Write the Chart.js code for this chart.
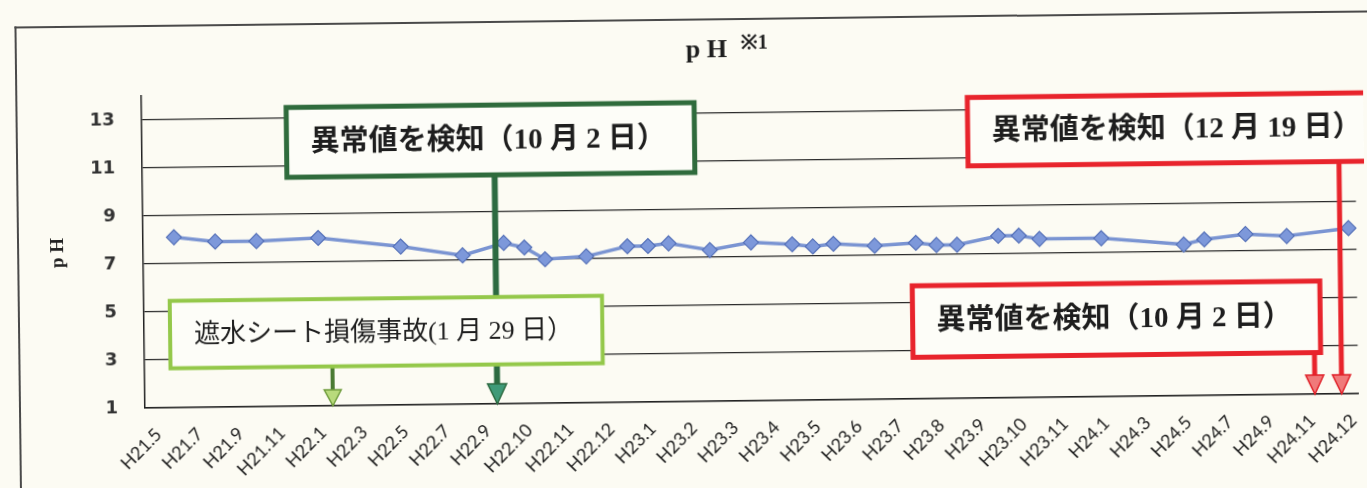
<!DOCTYPE html>
<html><head><meta charset="utf-8">
<script src="https://cdn.jsdelivr.net/npm/chart.js@4.4.1/dist/chart.umd.min.js"></script>
<style>
html,body{margin:0;padding:0;background:#fcfbf3;overflow:hidden;width:1367px;height:488px;}
#wrap{position:relative;width:1367px;height:488px;transform:rotate(-0.68deg);transform-origin:145px 408px;}
#frame{position:absolute;left:19px;top:25px;width:1420px;height:540px;border-left:2px solid #4a4a4a;border-top:2px solid #4a4a4a;}
canvas{position:absolute;left:0;top:0;}
</style></head><body>
<div id="wrap"><div id="frame"></div><canvas id="c" width="1367" height="488" style="width:1367px;height:488px"></canvas></div>
<script>
// ---- data ----
const xLabels = ['H21.5','H21.7','H21.9','H21.11','H22.1','H22.3','H22.5','H22.7','H22.9','H22.10',
  'H22.11','H22.12','H23.1','H23.2','H23.3','H23.4','H23.5','H23.6','H23.7','H23.8',
  'H23.9','H23.10','H23.11','H24.1','H24.3','H24.5','H24.7','H24.9','H24.11','H24.12'];
const xPos = [0.5,1.5,2.5,4,6,7.5,8.5,9,9.5,10.5,11.5,12,12.5,13.5,14.5,15.5,16,16.5,17.5,18.5,19,19.5,20.5,21,21.5,23,25,25.5,26.5,27.5,29];
const phValues = [8.1,7.9,7.9,8.0,7.6,7.2,7.7,7.5,7.0,7.1,7.5,7.5,7.6,7.3,7.6,7.5,7.4,7.5,7.4,7.5,7.4,7.4,7.75,7.75,7.6,7.6,7.3,7.5,7.7,7.6,7.9];
const yTicks = [1,3,5,7,9,11,13];

// ---- annotations (in axis units) ----
const arrows = [
  {x:8.30, from:10.54, to:1, color:'#2c6a40', width:6, head:'#3f9a78', edge:'#2c6a40', hw:19, hh:20},
  {x:4.31, from:2.64, to:1, color:'#4a7a32', width:4, head:'#b8da7c', edge:'#6f9c3c', hw:17, hh:16},
  {x:28.79, from:10.68, to:1, color:'#e8242c', width:5, head:'#f07a7a', edge:'#e02028', hw:18, hh:19},
  {x:28.14, from:2.73, to:1, color:'#e8242c', width:5, head:'#f07a7a', edge:'#e02028', hw:18, hh:19}
];
const boxes = [
  {text:'異常値を検知（10 月 2 日）', x0:3.26, x1:13.16, y0:13.45, y1:10.54, color:'#2f6b3c', lw:5, weight:'bold', size:29},
  {text:'遮水シート損傷事故(1 月 29 日）', x0:0.38, x1:10.87, y0:5.45, y1:2.64, color:'#94c84a', lw:4, weight:'normal', size:26},
  {text:'異常値を検知（12 月 19 日）', x0:19.79, x1:30.5, y0:13.53, y1:10.68, color:'#e8242c', lw:5, weight:'bold', size:29},
  {text:'異常値を検知（10 月 2 日）', x0:18.40, x1:28.29, y0:5.71, y1:2.73, color:'#e8242c', lw:5, weight:'bold', size:29}
];

const annoPlugin = {
  id:'anno',
  afterDatasetsDraw(chart){
    const {ctx, scales:{x, y}} = chart;
    ctx.save();
    arrows.forEach(a => {
      const px = x.getPixelForValue(a.x), top = y.getPixelForValue(a.from), tip = y.getPixelForValue(a.to);
      ctx.strokeStyle = a.color; ctx.lineWidth = a.width;
      ctx.beginPath(); ctx.moveTo(px, top); ctx.lineTo(px, tip - a.hh + 1); ctx.stroke();
      ctx.beginPath(); ctx.moveTo(px - a.hw/2, tip - a.hh); ctx.lineTo(px + a.hw/2, tip - a.hh); ctx.lineTo(px, tip); ctx.closePath();
      ctx.fillStyle = a.head; ctx.fill(); ctx.lineWidth = 1.5; ctx.strokeStyle = a.edge; ctx.stroke();
    });
    boxes.forEach(b => {
      const l = x.getPixelForValue(b.x0), r = x.getPixelForValue(b.x1);
      const t = y.getPixelForValue(b.y0), bt = y.getPixelForValue(b.y1);
      ctx.fillStyle = '#fdfdf8';
      ctx.fillRect(l, t, r - l, bt - t);
      ctx.lineWidth = b.lw; ctx.strokeStyle = b.color;
      ctx.strokeRect(l, t, r - l, bt - t);
      ctx.fillStyle = '#1e1e1e';
      ctx.font = b.weight + ' ' + b.size + 'px "Liberation Serif", "Noto Sans CJK JP"';
      ctx.textAlign = 'left'; ctx.textBaseline = 'middle';
      ctx.fillText(b.text, l + 24, (t + bt) / 2 + 1);
    });
    ctx.restore();
  },
  afterDraw(chart){
    const ctx = chart.ctx;
    ctx.save();
    ctx.fillStyle = '#1e1e1e';
    ctx.textAlign = 'left'; ctx.textBaseline = 'alphabetic';
    ctx.font = 'bold 26px "Liberation Serif"';
    ctx.fillText('p H', 690, 64);
    ctx.font = 'bold 20px "Liberation Serif", "DejaVu Serif"';
    ctx.fillText('※1', 745, 56);
    ctx.restore();
  }
};

new Chart(document.getElementById('c'), {
  type:'line',
  data:{
    datasets:[{
      data: xPos.map((v, i) => ({x: v, y: phValues[i]})),
      borderColor:'#7a94d2', borderWidth:3.5, tension:0,
      pointStyle:'rectRot', pointRadius:7.5, pointBackgroundColor:'#7d98da',
      pointBorderColor:'#5470b8', pointBorderWidth:1.2, clip:false
    }]
  },
  options:{
    responsive:false, animation:false, devicePixelRatio:1,
    layout:{padding:{top:96, right:6, bottom:0, left:0}},
    plugins:{legend:{display:false}, tooltip:{enabled:false}, title:{display:false}},
    scales:{
      x:{
        type:'linear', min:-0.25, max:29.19,
        afterBuildTicks: s => { s.ticks = xLabels.map((_, i) => ({value:i})); },
        afterFit: s => { s.height = 80; s.paddingLeft = 0; s.paddingRight = 0; },
        grid:{display:false, drawTicks:false},
        border:{display:true, color:'#222', width:1.5},
        ticks:{autoSkip:false, minRotation:45, maxRotation:45, padding:16, labelOffset:3,
          font:{family:'Lato', size:18}, color:'#1e1e1e',
          callback: v => xLabels[v] ?? ''}
      },
      y:{
        min:1, max:14,
        afterBuildTicks: s => { s.ticks = yTicks.map(v => ({value:v})); },
        afterFit: s => { s.width = 145; },
        grid:{color:'#2a2a2a', lineWidth:1.2, drawTicks:false},
        border:{color:'#222', width:1.5},
        ticks:{padding:27, font:{family:'DejaVu Sans', size:18, weight:'bold'}, color:'#333'},
        title:{display:true, text:'p H', font:{family:'Liberation Serif', size:19, weight:'bold'}, color:'#222', padding:{top:49, bottom:0}}
      }
    }
  },
  plugins:[annoPlugin]
});
</script>
</body></html>
